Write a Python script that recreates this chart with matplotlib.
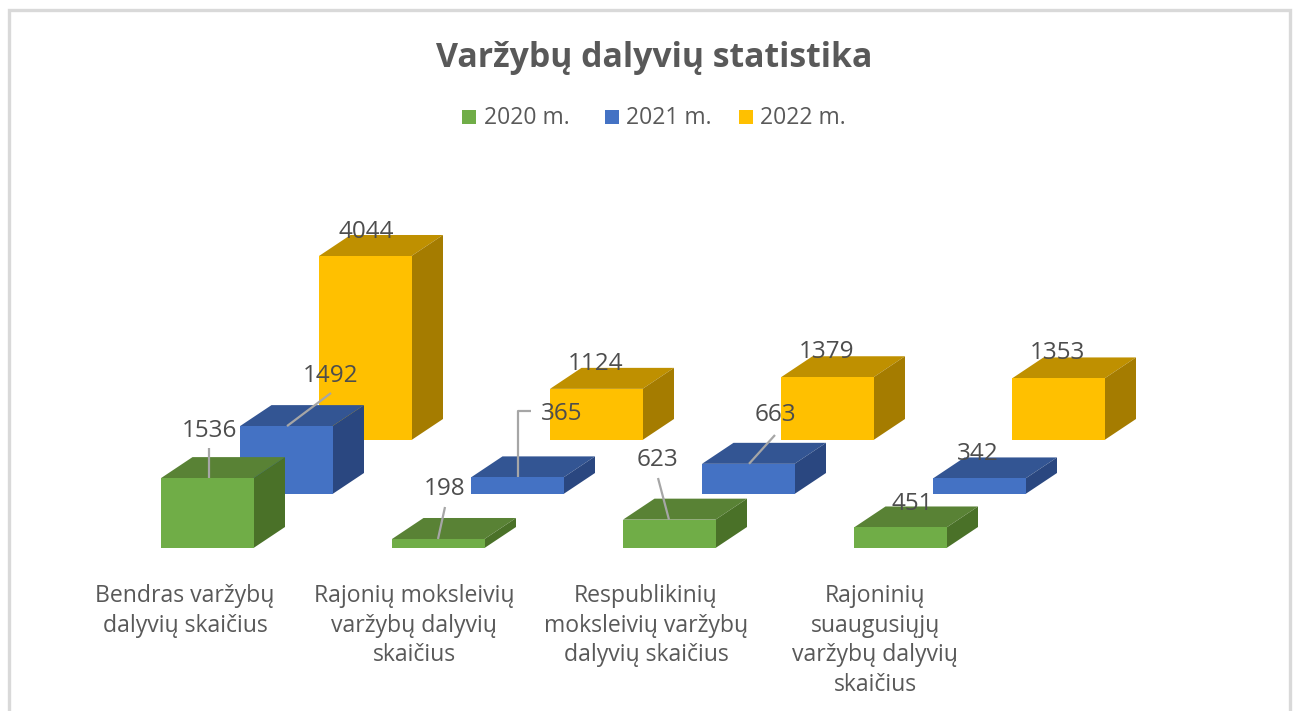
import matplotlib
matplotlib.use("Agg")
import matplotlib.pyplot as plt
from matplotlib.patches import Polygon, Rectangle

plt.rcParams['font.family'] = ['Open Sans', 'DejaVu Sans']

title = "Varžybų dalyvių statistika"
categories = ["Bendras varžybų\ndalyvių skaičius",
              "Rajonių moksleivių\nvaržybų dalyvių\nskaičius",
              "Respublikinių\nmoksleivių varžybų\ndalyvių skaičius",
              "Rajoninių\nsuaugusiųjų\nvaržybų dalyvių\nskaičius"]
series_names = ["2020 m.", "2021 m.", "2022 m."]
v2020 = [1536, 198, 623, 451]
v2021 = [1492, 365, 663, 342]
v2022 = [4044, 1124, 1379, 1353]

# --- styling and layout (pixel space of the 1296x711 canvas) ---
face = ["#70AD47", "#4472C4", "#FFC000"]
top = ["#598235", "#335593", "#BF9000"]
side = ["#4A7128", "#2A4780", "#A57C00"]
x0, y0 = 161, 548          # front-left bottom corner of first bar
cat_dx = 231
ser_dx, ser_dy = 79, -54
bar_w = 92.5
dep_dx, dep_dy = 31.5, -21
px_per_unit = 0.0455
text_c = "#595959"
label_c = "#4D4D4D"
# data-label centres per series / category
lab_xy = [[(209, 431), (445, 489), (658, 460), (912, 504)],
          [(331, 376), (562, 414), (775, 415), (978, 454)],
          [(366, 232), (596, 364), (827, 352), (1057, 353)]]
# leader start points (None = no leader); bends handled with elbow entry
leaders = [[(209, 448), (445, 507), (658, 478), None],
           [(331, 393), [(531, 411), (518, 411)], (775, 435), None],
           [None, None, None, None]]
leader_end_dx = [[48, 46, 46, 0], [47, 47, 47, 0], [0, 0, 0, 0]]
cat_label_xy = [(185, 584), (414, 584), (646, 584), (875, 584)]

fig = plt.figure(figsize=(12.96, 7.11), dpi=100)
ax = fig.add_axes([0, 0, 1, 1])
ax.set_xlim(0, 1296)
ax.set_ylim(711, 0)
ax.axis("off")

ax.add_patch(Rectangle((9, 10), 1280.5, 720, fc="white", ec="#D9D9D9", lw=2.4, zorder=0))

series = [v2020, v2021, v2022]
for s in (2, 1, 0):
    z = 5 + (2 - s) * 2
    for c, v in enumerate(series[s]):
        xl = x0 + c * cat_dx + s * ser_dx
        xr = xl + bar_w
        yb = y0 + s * ser_dy
        yt = yb - v * px_per_unit
        ax.add_patch(Polygon([(xl, yb), (xr, yb), (xr, yt), (xl, yt)], fc=face[s], ec="none", zorder=z + 0.2))
        ax.add_patch(Polygon([(xl, yt), (xr, yt), (xr + dep_dx, yt + dep_dy), (xl + dep_dx, yt + dep_dy)],
                             fc=top[s], ec="none", zorder=z))
        ax.add_patch(Polygon([(xr, yb), (xr + dep_dx, yb + dep_dy), (xr + dep_dx, yt + dep_dy), (xr, yt)],
                             fc=side[s], ec="none", zorder=z))
        lead = leaders[s][c]
        if lead is not None:
            pts = lead if isinstance(lead, list) else [lead]
            ex = xl + leader_end_dx[s][c]
            xs = [p[0] for p in pts] + [ex]
            ys = [p[1] for p in pts] + [yt]
            ax.plot(xs, ys, color="#A6A6A6", lw=1.6, zorder=z + 0.5, solid_capstyle="butt")

for s in range(3):
    for c, v in enumerate(series[s]):
        lx, ly = lab_xy[s][c]
        ax.text(lx, ly, str(v), ha="center", va="center", fontsize=17.5, color=label_c, zorder=20)

for c, lab in enumerate(categories):
    lx, ly = cat_label_xy[c]
    ax.text(lx, ly, lab, ha="center", va="top", fontsize=16.6, color=text_c,
            linespacing=1.31, zorder=20)

ax.text(654, 58, title, ha="center", va="center", fontsize=24.4, fontweight="bold", color=text_c, zorder=20)

for name, mx, col in zip(series_names, [462, 605, 739], face):
    ax.add_patch(Rectangle((mx, 110), 14, 14, fc=col, ec="none", zorder=20))
    ax.text(mx + 21.5, 118, name, ha="left", va="center", fontsize=16.5, color=text_c, zorder=20)

fig.savefig("out.png", dpi=100)
